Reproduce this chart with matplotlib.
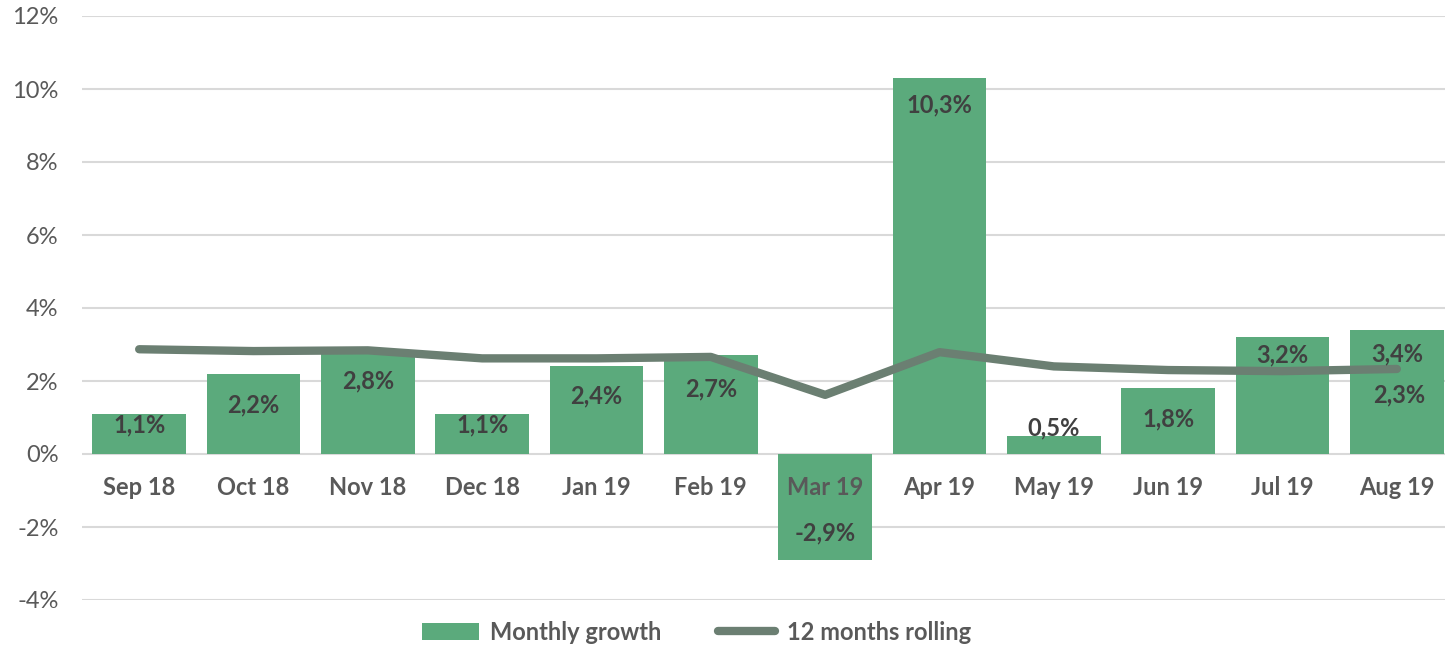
import matplotlib.pyplot as plt
from matplotlib.ticker import FuncFormatter

months = ["Sep 18", "Oct 18", "Nov 18", "Dec 18", "Jan 19", "Feb 19",
          "Mar 19", "Apr 19", "May 19", "Jun 19", "Jul 19", "Aug 19"]
monthly = [1.1, 2.2, 2.8, 1.1, 2.4, 2.7, -2.9, 10.3, 0.5, 1.8, 3.2, 3.4]
rolling = [2.87, 2.82, 2.84, 2.62, 2.62, 2.66, 1.62, 2.79, 2.40, 2.30, 2.27, 2.33]
rolling_label = "2,3%"

# label offsets (pixels below top of bar, negative = above)
label_off = [11, 31, 29, 11, 30, 33, 27, 27, -8, 31, 18, 24]

bar_col = "#5BAA7C"
line_col = "#6B7F72"
txt_col = "#595959"
lab_col = "#404040"
fs = 17

plt.rcParams['font.family'] = ['Lato', 'DejaVu Sans']

fig = plt.figure(figsize=(14.45, 6.47), dpi=100)
ax = fig.add_axes([82/1445, 47/647, 1372/1445, 584/647])

x = list(range(len(months)))
bars = ax.bar(x, monthly, width=0.82, color=bar_col, zorder=2, label="Monthly growth")
line, = ax.plot(x, rolling, color=line_col, lw=6, solid_capstyle='round', zorder=3,
                label="12 months rolling")

for i, v in enumerate(monthly):
    txt = ("%.1f%%" % v).replace(".", ",")
    off = -label_off[i] if v >= 0 else label_off[i]
    ax.annotate(txt, (i, v), xytext=(0, off), textcoords='offset pixels',
                ha='center', va='center', fontsize=fs, fontweight='bold',
                color=lab_col, zorder=5)

ax.annotate(rolling_label, (11, rolling[11]), xytext=(2, -26),
            textcoords='offset pixels', ha='center', va='center',
            fontsize=fs, fontweight='bold', color=lab_col, zorder=5)

for i, m in enumerate(months):
    ax.text(i, -0.93, m, ha='center', va='center', fontsize=fs,
            fontweight='bold', color=txt_col, zorder=5)

ax.set_xlim(-0.5, 11.5)
ax.set_ylim(-4, 12)
ax.set_yticks(range(-4, 13, 2))
ax.yaxis.set_major_formatter(FuncFormatter(lambda v, p: "%d%%" % v))
ax.tick_params(axis='y', length=0, pad=17, labelsize=fs, labelcolor=txt_col)
ax.set_xticks([])
ax.grid(axis='y', color="#D9D9D9", lw=1.5, zorder=0)
ax.set_axisbelow(True)
for s in ax.spines.values():
    s.set_visible(False)

leg = fig.legend([bars, line], ["Monthly growth", "12 months rolling"],
                 loc='center', bbox_to_anchor=(0.482, 1 - 632/647),
                 ncol=2, frameon=False, fontsize=fs, handlelength=2.4,
                 columnspacing=2.4, handletextpad=0.5)
for t in leg.get_texts():
    t.set_fontweight('bold')
    t.set_color(txt_col)

fig.savefig("out.png", dpi=100)
